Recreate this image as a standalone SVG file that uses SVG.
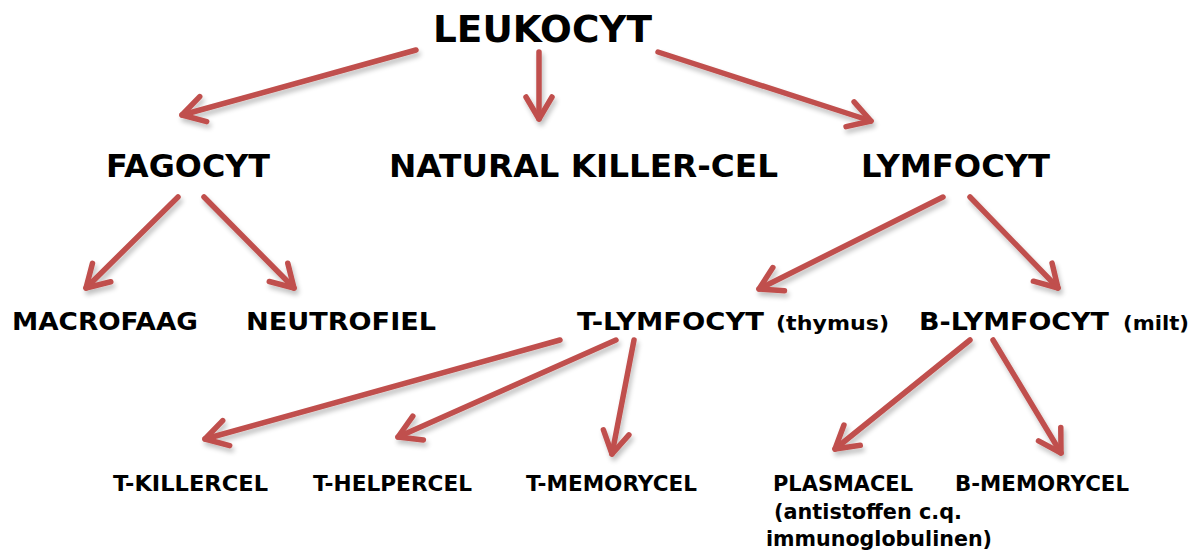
<svg xmlns="http://www.w3.org/2000/svg" width="1196" height="551" viewBox="0 0 1196 551">
<style>
text{font-family:"DejaVu Sans","Verdana",sans-serif;font-weight:bold;fill:#000}
.a{fill:none;stroke:#c0504d;stroke-width:5.5;stroke-linecap:round;stroke-linejoin:round}
</style>
<defs>
<filter id="sh" x="-20%" y="-20%" width="140%" height="140%">
<feGaussianBlur in="SourceAlpha" stdDeviation="2.5"/>
<feOffset dx="2" dy="4" result="b"/>
<feComponentTransfer><feFuncA type="linear" slope="0.25"/></feComponentTransfer>
<feMerge><feMergeNode/><feMergeNode in="SourceGraphic"/></feMerge>
</filter>
<marker id="ah" viewBox="-25 -16 28 32" refX="0" refY="0" markerWidth="28" markerHeight="32" markerUnits="userSpaceOnUse" orient="auto" overflow="visible">
<path d="M-22,-13 L0,0 L-22,13" fill="none" stroke="#c0504d" stroke-width="5.5" stroke-linecap="round" stroke-linejoin="round"/>
</marker>
</defs>
<g id="connectors" filter="url(#sh)">
<line class="a" x1="416" y1="50" x2="182" y2="115" marker-end="url(#ah)"/>
<line class="a" x1="539" y1="52" x2="539" y2="119" marker-end="url(#ah)"/>
<line class="a" x1="658" y1="52" x2="871" y2="121" marker-end="url(#ah)"/>
<line class="a" x1="178" y1="197" x2="86" y2="288" marker-end="url(#ah)"/>
<line class="a" x1="204" y1="197" x2="294" y2="288" marker-end="url(#ah)"/>
<line class="a" x1="943" y1="197" x2="759" y2="289" marker-end="url(#ah)"/>
<line class="a" x1="970" y1="197" x2="1058" y2="288" marker-end="url(#ah)"/>
<line class="a" x1="560" y1="340" x2="205" y2="439" marker-end="url(#ah)"/>
<line class="a" x1="616" y1="340" x2="398" y2="437" marker-end="url(#ah)"/>
<line class="a" x1="634" y1="340" x2="612" y2="454" marker-end="url(#ah)"/>
<line class="a" x1="970" y1="340" x2="835" y2="449" marker-end="url(#ah)"/>
<line class="a" x1="993" y1="340" x2="1061" y2="453" marker-end="url(#ah)"/>
</g>
<g id="leukocyt"><text x="433" y="42" font-size="38" textLength="219" lengthAdjust="spacingAndGlyphs">LEUKOCYT</text></g>
<g id="fagocyt"><text x="106" y="177" font-size="32" textLength="164" lengthAdjust="spacingAndGlyphs">FAGOCYT</text></g>
<g id="nk"><text x="389" y="177" font-size="32" textLength="389" lengthAdjust="spacingAndGlyphs">NATURAL KILLER-CEL</text></g>
<g id="lymfocyt"><text x="861" y="177" font-size="32" textLength="189" lengthAdjust="spacingAndGlyphs">LYMFOCYT</text></g>
<g id="macrofaag"><text x="12" y="330" font-size="25.5" textLength="186" lengthAdjust="spacingAndGlyphs">MACROFAAG</text></g>
<g id="neutrofiel"><text x="246" y="330" font-size="25.5" textLength="190" lengthAdjust="spacingAndGlyphs">NEUTROFIEL</text></g>
<g id="tlymfocyt"><text x="577" y="330" font-size="25.5" textLength="187" lengthAdjust="spacingAndGlyphs">T-LYMFOCYT</text><text x="776" y="330" font-size="19" textLength="113" lengthAdjust="spacingAndGlyphs">(thymus)</text></g>
<g id="blymfocyt"><text x="919" y="330" font-size="25.5" textLength="190" lengthAdjust="spacingAndGlyphs">B-LYMFOCYT</text><text x="1123" y="330" font-size="19" textLength="66" lengthAdjust="spacingAndGlyphs">(milt)</text></g>
<g id="tkiller"><text x="113" y="491" font-size="21" textLength="155" lengthAdjust="spacingAndGlyphs">T-KILLERCEL</text></g>
<g id="thelper"><text x="313" y="491" font-size="21" textLength="159" lengthAdjust="spacingAndGlyphs">T-HELPERCEL</text></g>
<g id="tmemory"><text x="526" y="491" font-size="21" textLength="171" lengthAdjust="spacingAndGlyphs">T-MEMORYCEL</text></g>
<g id="plasmacel"><text x="773" y="491" font-size="21" textLength="140" lengthAdjust="spacingAndGlyphs">PLASMACEL</text><text x="774" y="519" font-size="21" textLength="188" lengthAdjust="spacingAndGlyphs">(antistoffen c.q.</text><text x="766" y="546" font-size="21" textLength="226" lengthAdjust="spacingAndGlyphs">immunoglobulinen)</text></g>
<g id="bmemory"><text x="955" y="491" font-size="21" textLength="174" lengthAdjust="spacingAndGlyphs">B-MEMORYCEL</text></g>
</svg>
